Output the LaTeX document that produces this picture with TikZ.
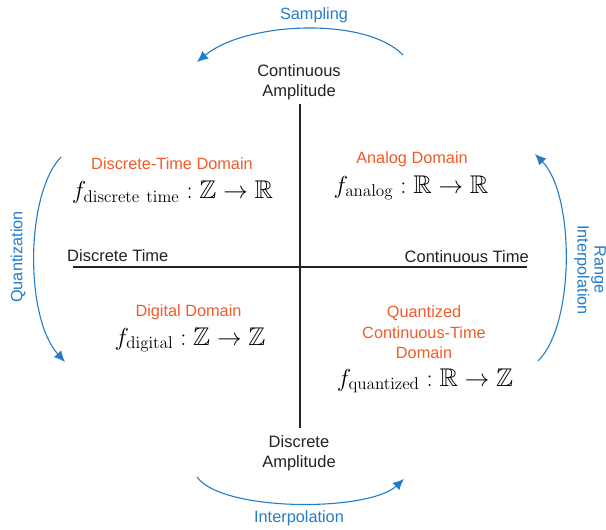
\documentclass[tikz,border=0pt]{standalone}
\usepackage{amssymb}
\usepackage[no-math]{fontspec}
\setmainfont{Liberation Sans}
\usetikzlibrary{arrows.meta}
\definecolor{flowblue}{RGB}{35,125,200}
\definecolor{domorange}{RGB}{242,92,42}
\definecolor{axisgray}{RGB}{35,35,35}
\tikzset{
 lbl/.style={font=\fontsize{16.5}{20}\selectfont, text=axisgray, align=center, inner sep=0pt},
 dom/.style={font=\fontsize{16.3}{20.5}\selectfont, text=domorange, align=center, inner sep=0pt},
 fn/.style={font=\fontsize{18}{22}\selectfont, inner sep=0pt},
 flow/.style={draw=flowblue, line width=1.1pt, -{Latex[length=11pt,width=10pt]}},
 flowlbl/.style={font=\fontsize{16.3}{17}\selectfont, text=flowblue, align=center, inner sep=0pt},
 axis/.style={draw=axisgray, line width=1.2pt}
}
\begin{document}
\begin{tikzpicture}[x=1pt,y=-1pt]
\useasboundingbox[fill=white] (0,0) rectangle (606,530);
% axes
\coordinate (L) at (73,267);
\coordinate (R) at (527,267);
\coordinate (T) at (300,104);
\coordinate (B) at (300,428);
\draw[axis] (L) -- (R);
\draw[axis] (T) -- (B);
% axis labels
\node[lbl] (ca) at (299,82) {Continuous\\Amplitude};
\node[lbl] (da) at (299,453) {Discrete\\Amplitude};
\node[lbl, anchor=west] (dt) at (67,256) {Discrete Time};
\node[lbl, anchor=east] (ct) at (529,257) {Continuous Time};
% domains
\node[dom] (dtd) at (172,164) {Discrete-Time Domain};
\node[fn] (fdt) at (172.5,192) {\scalebox{1.42}{$f_{\mathrm{discrete\ time}}:\mathbb{Z}\to\mathbb{R}$}};
\node[dom] (ad) at (412,159) {Analog Domain};
\node[fn] (fa) at (411,188) {\scalebox{1.42}{$f_{\mathrm{analog}}:\mathbb{R}\to\mathbb{R}$}};
\node[dom] (dd) at (188.5,312) {Digital Domain};
\node[fn] (fd) at (190,340) {\scalebox{1.42}{$f_{\mathrm{digital}}:\mathbb{Z}\to\mathbb{Z}$}};
\node[dom] (qd) at (424,332.5) {Quantized\\Continuous-Time\\Domain};
\node[fn] (fq) at (425,381) {\scalebox{1.42}{$f_{\mathrm{quantized}}:\mathbb{R}\to\mathbb{Z}$}};
% flows
\coordinate (s1) at (403,55);
\coordinate (s2) at (197,62);
\draw[flow] (s1) .. controls (365,16) and (245,22) .. (s2);
\node[flowlbl] (sl) at (314,15) {Sampling};
\coordinate (q1) at (61,157);
\coordinate (q2) at (65,362);
\draw[flow] (q1) .. controls (25,195) and (25,318) .. (q2);
\node[flowlbl, rotate=90] (ql) at (18,257) {Quantization};
\coordinate (r1) at (538,361);
\coordinate (r2) at (535,154);
\draw[flow] (r1) .. controls (575,325) and (575,195) .. (r2);
\node[flowlbl, rotate=-90] (rl) at (590,270) {Range\\Interpolation};
\coordinate (i1) at (197,477);
\coordinate (i2) at (404,479);
\draw[flow] (i1) .. controls (222,512) and (368,512) .. (i2);
\node[flowlbl] (il) at (299,518) {Interpolation};
\end{tikzpicture}
\end{document}
